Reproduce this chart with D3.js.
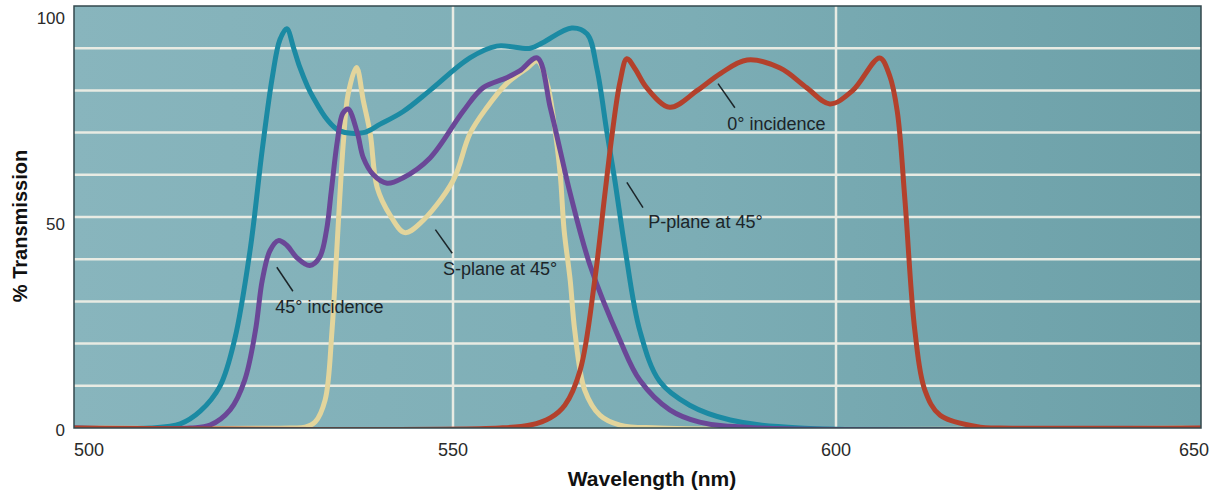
<!DOCTYPE html>
<html>
<head>
<meta charset="utf-8">
<script src="https://cdn.jsdelivr.net/npm/d3@7"></script>
<style>
  body { margin: 0; background: #fff; }
  svg { display: block; }
  .tick-label { font-family: "Liberation Sans Narrow", "Arial Narrow", sans-serif; font-size: 18px; fill: #2a2a2a; }
  .axis-title { font-family: "Liberation Sans", Arial, sans-serif; font-weight: bold; font-size: 21px; fill: #111; }
  .note { font-family: "Liberation Sans", Arial, sans-serif; font-size: 18px; fill: #1c2529; }
</style>
</head>
<body>
<div id="chart"></div>
<script>
// transmission curves, [wavelength nm, % transmission]
const pPlane45 = [[500,0],[510.4,0],[514.4,1],[517,4],[519.6,10],[521.5,21],[523.5,42],[525.1,66],[526.4,83],
  [527.4,92],[528.3,94.6],[529.2,90],[530,85.5],[531,81],[531.7,78.5],[533.6,73],[535.2,70.4],[538.3,70],[540.5,72],
  [543.5,75],[547,80],[552.2,87.7],[555.7,90.5],[560.1,90],[561.7,91.3],[565.5,94.8],[567.5,93.4],
  [568.8,85],[570.1,70],[571.1,59],[572.5,42],[574.4,23],[577,11],[580.9,5.4],[586.2,1.9],[595.3,0],[650,0]];

const sPlane45 = [[500,0],[528.7,0],[530.7,0.2],[532,1.4],[533.3,6.6],[534.2,23],[534.7,38],[535.2,54],
  [535.7,68],[536.3,79],[537.4,85.4],[538.3,77.5],[539.2,69.7],[540.1,57],[541.8,50.4],[543.7,46.3],
  [545.7,48.5],[550,58.6],[552.2,69.7],[554.4,75.9],[557,81.6],[559.7,85.3],[561,87],[562.3,81.6],
  [563.1,73.5],[564,60],[564.5,47],[565.3,35],[565.9,23],[567.2,9],[569.2,3],[571.8,0.7],[577,0],[650,0]];

const inc45 = [[500,0],[515.7,0],[518.3,0.7],[520.9,4.3],[522.8,11.3],[524.2,23],[525.1,35],[526.1,42],
  [527.2,44.4],[528.3,43.3],[529.6,40.4],[531.3,38.5],[532.6,40.5],[533.5,47],[534.1,56],[534.9,68],
  [535.6,74.5],[536.3,75.6],[537.5,70],[538.3,64],[539.6,60],[541.4,58],[543.5,59.3],[547,64],[551.3,75],
  [553.9,80.6],[557,83],[558.7,84.6],[561,87.7],[562.7,75.9],[564,65.7],[565.3,55.6],[567.9,38.5],
  [571.8,20.8],[574.4,11.3],[578.3,4.3],[582.2,1.4],[590.1,0],[650,0]];

const inc0 = [[500,0],[556.1,0],[560.1,0.7],[562.7,2.4],[564.6,5.4],[566.6,13.7],[568.5,35],[569.8,55],
  [570.8,70],[571.8,82],[572.7,87.5],[573.8,85],[575.3,80.6],[578.3,76],[581.9,80],[584.9,84],[588.4,87.2],
  [592.7,85.3],[596.2,80.6],[599.2,76.8],[602.2,80],[605.7,87.7],[607,83.5],[608,75],[609,54],[610.3,23],
  [611.6,9],[613.6,3],[618.8,0.2],[621.4,0],[650,0]];

const xTicks = [500, 550, 600, 650];
const yTicks = [0, 50, 100];

// label text, text anchor point, leader line from -> to
const notes = [
  { text: "0° incidence",   at: [585.8, 70.7], from: [584.6, 81.6], to: [586.8, 75.9] },
  { text: "P-plane at 45°", at: [575.5, 47.3], from: [572.7, 58.2], to: [574.8, 52.2] },
  { text: "S-plane at 45°", at: [548.7, 36.2], from: [547.7, 47.0], to: [549.9, 41.4] },
  { text: "45° incidence",  at: [526.8, 27.2], from: [527.0, 38.1], to: [529.1, 32.4] }
];

const W = 1221, H = 495;
const plotL = 74, plotR = 1201, plotT = 6, plotB = 428;

const svg = d3.select("#chart").append("svg").attr("width", W).attr("height", H);

const x = d3.scaleLinear().domain([500, 650]).range([70, 1219]);
const y = d3.scaleLinear().domain([0, 100]).range([plotB, plotT]);

const defs = svg.append("defs");
const grad = defs.append("linearGradient").attr("id", "bg").attr("x1", "0").attr("x2", "1").attr("y1", "0").attr("y2", "0");
grad.append("stop").attr("offset", "0%").attr("stop-color", "#88b5bd");
grad.append("stop").attr("offset", "55%").attr("stop-color", "#7cadb5");
grad.append("stop").attr("offset", "100%").attr("stop-color", "#6ca0a8");
defs.append("clipPath").attr("id", "clip").append("rect")
  .attr("x", plotL).attr("y", plotT).attr("width", plotR - plotL).attr("height", plotB - plotT);

svg.append("rect")
  .attr("x", plotL).attr("y", plotT).attr("width", plotR - plotL).attr("height", plotB - plotT)
  .attr("fill", "url(#bg)");

const grid = svg.append("g").attr("clip-path", "url(#clip)");
grid.selectAll("line.h").data(d3.range(10, 100, 10)).enter().append("line")
  .attr("x1", plotL).attr("x2", plotR)
  .attr("y1", d => y(d)).attr("y2", d => y(d))
  .attr("stroke", "#e8ebe3").attr("stroke-width", 2.5);
grid.selectAll("line.v").data([550, 600]).enter().append("line")
  .attr("x1", d => x(d)).attr("x2", d => x(d))
  .attr("y1", plotT).attr("y2", plotB)
  .attr("stroke", "#e8ebe3").attr("stroke-width", 2.5);

const line = d3.line()
  .x(d => x(d[0])).y(d => y(Math.max(0, d[1])))
  .curve(d3.curveCatmullRom.alpha(0.5));

const series = [
  { data: sPlane45, color: "#e3d59c" },
  { data: pPlane45, color: "#1b8aa3" },
  { data: inc45, color: "#6a4797" },
  { data: inc0, color: "#b3412c" }
];

const curves = svg.append("g").attr("clip-path", "url(#clip)");
curves.selectAll("path").data(series).enter().append("path")
  .attr("d", d => line(d.data))
  .attr("fill", "none")
  .attr("stroke", d => d.color)
  .attr("stroke-width", 5)
  .attr("stroke-linejoin", "round")
  .attr("stroke-linecap", "round");

svg.append("rect")
  .attr("x", plotL).attr("y", plotT).attr("width", plotR - plotL).attr("height", plotB - plotT)
  .attr("fill", "none").attr("stroke", "#33484d").attr("stroke-width", 1.5);

// annotations
const ann = svg.append("g");
ann.selectAll("line").data(notes).enter().append("line")
  .attr("x1", d => x(d.from[0])).attr("y1", d => y(d.from[1]))
  .attr("x2", d => x(d.to[0])).attr("y2", d => y(d.to[1]))
  .attr("stroke", "#1c2529").attr("stroke-width", 1.5);
ann.selectAll("text").data(notes).enter().append("text")
  .attr("class", "note")
  .attr("x", d => x(d.at[0])).attr("y", d => y(d.at[1]))
  .text(d => d.text);

// axis labels
svg.selectAll("text.xt").data(xTicks).enter().append("text")
  .attr("class", "tick-label")
  .attr("x", (d, i) => i == 0 ? plotL : (i == xTicks.length - 1 ? plotR + 8 : x(d)))
  .attr("y", 456)
  .attr("text-anchor", (d, i) => i == 0 ? "start" : (i == xTicks.length - 1 ? "end" : "middle"))
  .text(d => d);

svg.selectAll("text.yt").data(yTicks).enter().append("text")
  .attr("class", "tick-label")
  .attr("x", 65)
  .attr("y", d => y(d) + 8 + d * 0.1)
  .attr("text-anchor", "end")
  .style("font-size", "17px")
  .text(d => d);

svg.append("text")
  .attr("class", "axis-title")
  .attr("x", 652)
  .attr("y", 486)
  .attr("text-anchor", "middle")
  .text("Wavelength (nm)");

svg.append("text")
  .attr("class", "axis-title")
  .attr("transform", "translate(27,226) rotate(-90)")
  .attr("text-anchor", "middle")
  .style("font-size", "20px")
  .text("% Transmission");
</script>
</body>
</html>
